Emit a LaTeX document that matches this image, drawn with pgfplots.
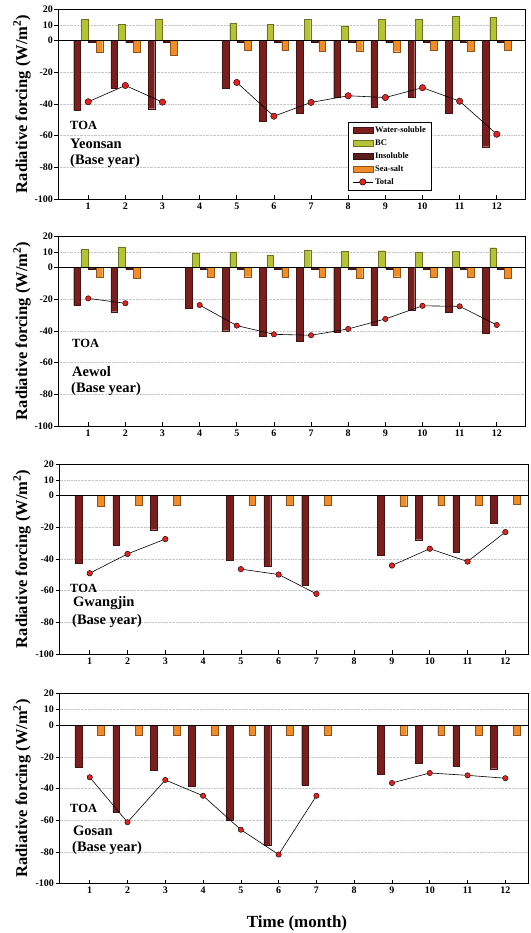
\documentclass[border=0pt]{standalone}
\usepackage{fontspec}
\setmainfont{Liberation Serif}
\usepackage{pgfplots}
\pgfplotsset{compat=1.18}
\definecolor{wscol}{HTML}{7A1E1E}
\definecolor{bccol}{HTML}{B4C436}
\definecolor{inscol}{HTML}{5A1C1C}
\definecolor{sscol}{HTML}{F28C28}
\definecolor{totcol}{HTML}{E42320}
\tikzset{zeroline/.style={black, line width=0.7pt}}
\pgfplotsset{
  rf/.style={
    scale only axis, height=190pt,
    xmin=0.2, ymin=-100, ymax=20,
    ytick={-100,-80,-60,-40,-20,0,10,20},
    xtick={1,...,12},
    xtick pos=lower, ytick pos=left,
    tick align=inside, major tick length=4pt,
    ytick style={xshift=-4pt, black, line width=0.6pt},
    xtick style={black, line width=0.6pt},
    ymajorgrids, major grid style={densely dotted, gray!45, line width=0.5pt},
    axis line style={line width=0.8pt},
    /pgf/number format/assume math mode=true,
    ticklabel style={font=\bfseries\fontsize{10}{10}\selectfont},
    yticklabel style={xshift=-2pt},
    clip=false,
  },
  barleg/.style={legend image code/.code={\draw[##1] (0pt,-2.8pt) rectangle (20pt,2.8pt);}},
  bar/.style={ybar, bar width=0.18, fill=#1, draw=#1!60!black, line width=0.35pt, barleg},
  tot/.style={black, line width=0.6pt, mark=*, mark size=#1,
    mark options={fill=totcol, draw=black, line width=0.4pt, solid},
    unbounded coords=jump,
    legend image code/.code={\draw[mark repeat=2,mark phase=2,##1] plot coordinates {(0pt,0pt)(10pt,0pt)(20pt,0pt)};}},
}
\newcommand{\ylab}{\bfseries\fontsize{16.5}{17}\selectfont Radiative forcing (W/m\textsuperscript{2})}
\newcommand{\toa}{\bfseries\fontsize{12.5}{13}\selectfont}
\newcommand{\nam}{\bfseries\fontsize{14.5}{15}\selectfont}
\begin{document}
\begin{tikzpicture}
\useasboundingbox (0pt,0pt) rectangle (530pt,-933pt);

% Panel 1: Yeonsan
\begin{axis}[rf, at={(58.5pt,-199pt)}, anchor=south west, width=466.5pt, xmax=12.76,
  legend style={at={(rel axis cs:0.621,0.045)}, anchor=south west, draw=black, line width=0.6pt,
    font=\bfseries\fontsize{8.5}{9}\selectfont, inner xsep=4pt, inner ysep=2.5pt, row sep=1.6pt, cells={anchor=west}}]
\addplot[bar=wscol, bar shift=-0.3] coordinates {(1,-44) (2,-30) (3,-43) (5,-30) (6,-51) (7,-46) (8,-36) (9,-42) (10,-36) (11,-46) (12,-67)};
\addplot[bar=bccol, bar shift=-0.1] coordinates {(1,13.3) (2,10.1) (3,13.3) (5,10.8) (6,10.1) (7,13.5) (8,8.9) (9,13.5) (10,13.3) (11,15.4) (12,14.8)};
\addplot[bar=inscol, bar shift=0.1] coordinates {(1,-1.2) (2,-1.2) (3,-1.0) (5,-1.1) (6,-1.2) (7,-1.0) (8,-1.1) (9,-1.2) (10,-1.1) (11,-1.2) (12,-1.2)};
\addplot[bar=sscol, bar shift=0.3] coordinates {(1,-7.2) (2,-7.4) (3,-8.9) (5,-6.3) (6,-6.1) (7,-6.5) (8,-6.5) (9,-7.0) (10,-6.1) (11,-6.8) (12,-5.9)};
\addplot[tot=3.2pt] coordinates {(1,-38.6) (2,-28.3) (3,-38.8) (4,nan) (5,-26.4) (6,-47.7) (7,-39.0) (8,-34.8) (9,-35.9) (10,-29.7) (11,-38.2) (12,-59.1)};
\legend{Water-soluble, BC, Insoluble, Sea-salt, Total}
\draw[zeroline] (axis cs:0.2,0) -- (axis cs:12.76,0);
\end{axis}

% Panel 2: Aewol
\begin{axis}[rf, at={(58.5pt,-426pt)}, anchor=south west, width=466.5pt, xmax=12.76]
\addplot[bar=wscol, bar shift=-0.3] coordinates {(1,-23.8) (2,-27.8) (4,-25.7) (5,-39.8) (6,-43.2) (7,-46.7) (8,-40.8) (9,-36.4) (10,-26.9) (11,-28.2) (12,-41.5)};
\addplot[bar=bccol, bar shift=-0.1] coordinates {(1,11.6) (2,13.1) (4,9.3) (5,9.9) (6,7.8) (7,11.2) (8,10.3) (9,10.7) (10,9.7) (11,10.5) (12,12.6)};
\addplot[bar=inscol, bar shift=0.1] coordinates {(1,-1.0) (2,-1.0) (4,-1.0) (5,-1.0) (6,-1.0) (7,-1.0) (8,-1.0) (9,-1.0) (10,-1.0) (11,-1.0) (12,-1.0)};
\addplot[bar=sscol, bar shift=0.3] coordinates {(1,-6.1) (2,-6.7) (4,-6.1) (5,-5.7) (6,-5.9) (7,-6.1) (8,-6.9) (9,-5.7) (10,-5.9) (11,-6.1) (12,-6.5)};
\addplot[tot=2.7pt] coordinates {(1,-19.4) (2,-22.5) (3,nan) (4,-23.6) (5,-36.6) (6,-42.1) (7,-42.7) (8,-38.7) (9,-32.4) (10,-24.1) (11,-24.4) (12,-36.2)};
\draw[zeroline] (axis cs:0.2,0) -- (axis cs:12.76,0);
\end{axis}

% Panel 3: Gwangjin
\begin{axis}[rf, at={(59.5pt,-654pt)}, anchor=south west, width=468.5pt, xmax=12.6]
\addplot[bar=wscol, bar shift=-0.3] coordinates {(1,-42.9) (2,-31.0) (3,-21.5) (5,-41.0) (6,-44.4) (7,-56.5) (9,-37.7) (10,-27.8) (11,-35.8) (12,-17.6)};
\addplot[bar=sscol, bar shift=0.3] coordinates {(1,-6.6) (2,-6.3) (3,-6.3) (5,-6.3) (6,-6.1) (7,-5.9) (9,-6.6) (10,-6.3) (11,-6.3) (12,-5.6)};
\addplot[tot=2.8pt] coordinates {(1,-49.0) (2,-36.8) (3,-27.4) (4,nan) (5,-46.4) (6,-49.8) (7,-62.0) (8,nan) (9,-44.1) (10,-33.5) (11,-41.6) (12,-23.0)};
\draw[zeroline] (axis cs:0.2,0) -- (axis cs:12.6,0);
\end{axis}

% Panel 4: Gosan
\begin{axis}[rf, at={(59.5pt,-883.5pt)}, anchor=south west, width=468.5pt, xmax=12.6]
\addplot[bar=wscol, bar shift=-0.3] coordinates {(1,-26.7) (2,-54.8) (3,-28.5) (4,-38.3) (5,-60.0) (6,-75.6) (7,-38.1) (9,-30.8) (10,-24.2) (11,-25.8) (12,-27.5)};
\addplot[bar=sscol, bar shift=0.3] coordinates {(1,-6.5) (2,-6.5) (3,-6.5) (4,-6.5) (5,-6.5) (6,-6.5) (7,-6.5) (9,-6.5) (10,-6.5) (11,-6.5) (12,-6.5)};
\addplot[tot=2.7pt] coordinates {(1,-32.9) (2,-61.3) (3,-34.6) (4,-44.6) (5,-66.0) (6,-81.7) (7,-44.6) (8,nan) (9,-36.5) (10,-30.2) (11,-31.7) (12,-33.5)};
\draw[zeroline] (axis cs:0.2,0) -- (axis cs:12.6,0);
\end{axis}

% y labels
\node[rotate=90] at (22pt,-104pt) {\ylab};
\node[rotate=90] at (22pt,-331pt) {\ylab};
\node[rotate=90] at (22pt,-559pt) {\ylab};
\node[rotate=90] at (22pt,-788.5pt) {\ylab};
\node at (297pt,-923pt) {\bfseries\fontsize{17}{18}\selectfont Time (month)};

% annotations
\node[anchor=west, inner sep=0pt] at (70pt,-125pt) {\toa TOA};
\node[anchor=west, inner sep=0pt] at (70pt,-144pt) {\nam Yeonsan};
\node[anchor=west, inner sep=0pt] at (70pt,-161pt) {\nam (Base year)};
\node[anchor=west, inner sep=0pt] at (72pt,-343pt) {\toa TOA};
\node[anchor=west, inner sep=0pt] at (72pt,-372pt) {\nam Aewol};
\node[anchor=west, inner sep=0pt] at (71pt,-389pt) {\nam (Base year)};
\node[anchor=west, inner sep=0pt] at (70pt,-588pt) {\toa TOA};
\node[anchor=west, inner sep=0pt] at (73pt,-603pt) {\nam Gwangjin};
\node[anchor=west, inner sep=0pt] at (72pt,-621pt) {\nam (Base year)};
\node[anchor=west, inner sep=0pt] at (70pt,-808pt) {\toa TOA};
\node[anchor=west, inner sep=0pt] at (73pt,-831pt) {\nam Gosan};
\node[anchor=west, inner sep=0pt] at (72pt,-848pt) {\nam (Base year)};
\end{tikzpicture}
\end{document}
